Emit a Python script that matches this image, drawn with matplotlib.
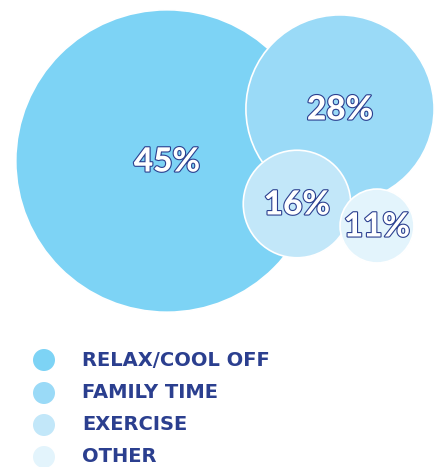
import matplotlib.pyplot as plt
from matplotlib.patches import Circle
import matplotlib.patheffects as pe

## datos
categorias = ['RELAX/COOL OFF', 'FAMILY TIME', 'EXERCISE', 'OTHER']
valores = [45, 28, 16, 11]
colores = ['#7dd3f5', '#9adaf7', '#c2e7f9', '#e3f4fc']

## posiciones de las burbujas (pixeles)
centros = [(167, 161), (340, 109), (297, 204), (377, 226)]
escala = 3.36  # radio en px por punto porcentual
navy = '#2b3f8f'

fig = plt.figure(figsize=(4.41, 4.67), dpi=100)
ax = fig.add_axes([0, 0, 1, 1])
ax.set_xlim(0, 441)
ax.set_ylim(467, 0)
ax.set_aspect('equal')
ax.axis('off')

for i in range(len(valores)):
    cx, cy = centros[i]
    r = valores[i] * escala
    ax.add_patch(Circle((cx, cy), r, facecolor=colores[i],
                        edgecolor='white', linewidth=1.2, zorder=i + 1))

for i in range(len(valores)):
    cx, cy = centros[i]
    t = ax.text(cx, cy + 1, str(valores[i]) + '%', ha='center', va='center',
                fontsize=24, fontweight='black', family='Lato', color='white',
                zorder=10)
    t.set_path_effects([pe.withStroke(linewidth=1.6, foreground=navy)])

## leyenda
ys = [360, 393, 425, 457]
for i in range(len(categorias)):
    ax.add_patch(Circle((44, ys[i]), 11, facecolor=colores[i], edgecolor='none'))
    ax.text(82, ys[i], categorias[i], ha='left', va='center', fontsize=14,
            fontweight='bold', family='DejaVu Sans', color=navy)

fig.savefig('out.png', dpi=100)
plt.close()
